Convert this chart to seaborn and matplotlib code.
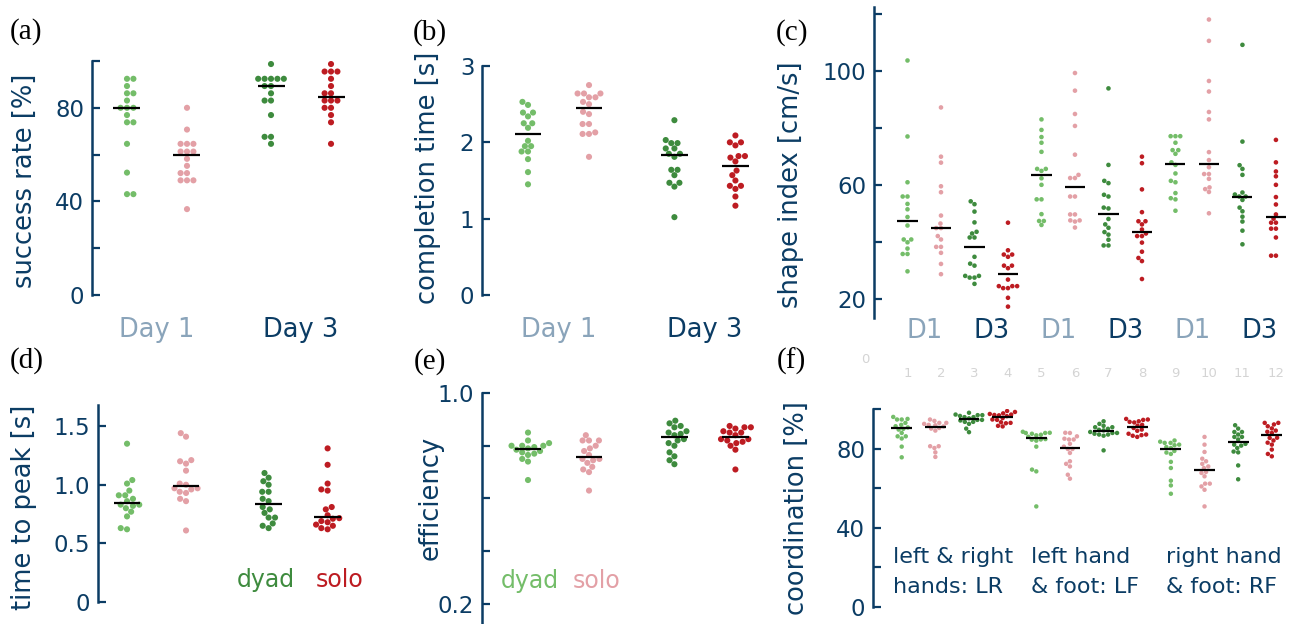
import numpy as np
import pandas as pd
import matplotlib
matplotlib.use("Agg")
import matplotlib.pyplot as plt
from matplotlib.transforms import blended_transform_factory
import seaborn as sns

# ---------------- data ----------------
# (a) success rate [%]: dyad D1, solo D1, dyad D3, solo D3
a_dyad_d1 = [92.4, 92.4, 89.3, 86.2, 86.2, 83.1, 80, 80, 80, 76.9, 73.8, 73.8, 64.6, 52.3, 43.1, 43.1]
a_solo_d1 = [80, 70.7, 64.6, 64.6, 64.6, 61.3, 61.3, 61.3, 58.2, 55.2, 52.1, 52.1, 49.0, 49.0, 49.0, 36.7]
a_dyad_d3 = [98.7, 92.4, 92.4, 92.4, 92.4, 92.4, 89.3, 89.3, 86.2, 83.1, 83.1, 76.9, 67.6, 67.6, 64.6]
a_solo_d3 = [98.7, 95.5, 95.5, 95.5, 92.4, 89.3, 86.2, 86.2, 83.1, 83.1, 83.1, 80, 80, 76.9, 73.8, 64.6]

# (b) completion time [s]
b_dyad_d1 = [2.53, 2.49, 2.39, 2.39, 2.34, 2.25, 2.25, 2.19, 2.02, 1.95, 1.95, 1.88, 1.88, 1.78, 1.61, 1.45]
b_solo_d1 = [2.75, 2.64, 2.64, 2.64, 2.59, 2.59, 2.53, 2.50, 2.40, 2.37, 2.24, 2.24, 2.13, 2.11, 2.11, 1.81]
b_dyad_d3 = [2.29, 2.03, 1.99, 1.99, 1.92, 1.92, 1.85, 1.85, 1.81, 1.64, 1.64, 1.57, 1.47, 1.47, 1.42, 1.02]
b_solo_d3 = [2.09, 2.00, 2.00, 1.96, 1.82, 1.82, 1.80, 1.75, 1.63, 1.57, 1.50, 1.43, 1.43, 1.39, 1.29, 1.17]

# (c) shape index [cm/s], 12 columns (LR D1 dyad/solo, D3 dyad/solo, LF ..., RF ...)
c1 = [103.8, 77.1, 61.0, 56.0, 56.0, 53.4, 51.5, 48.8, 45.8, 40.9, 40.9, 39.9, 37.7, 35.8, 35.8, 29.7]
c2 = [87.3, 70.0, 67.9, 59.6, 57.5, 49.3, 46.5, 44.9, 44.9, 42.1, 40.9, 38.3, 38.3, 36.2, 32.3, 28.7]
c3 = [54.3, 53.3, 50.7, 46.9, 43.6, 43.0, 41.6, 41.6, 34.8, 32.4, 31.7, 28.1, 28.1, 27.5, 27.5, 25.3]
c4 = [46.8, 37.1, 35.6, 35.6, 34.8, 31.7, 31.7, 30.8, 26.8, 24.5, 24.5, 24.5, 23.8, 23.8, 20.4, 17.3]
c5 = [83.1, 79.4, 76.9, 74.9, 71.7, 65.7, 65.7, 65.0, 62.4, 60.1, 55.0, 55.0, 49.8, 47.4, 47.4, 46.0]
c6 = [99.4, 93.2, 85.0, 80.8, 70.7, 63.6, 62.5, 62.5, 56.0, 56.0, 49.7, 49.7, 47.6, 47.6, 47.2, 45.1]
c7 = [94.0, 67.1, 61.5, 60.7, 56.6, 56.0, 52.1, 51.8, 48.1, 46.2, 45.0, 43.5, 42.6, 40.8, 38.8, 38.8]
c8 = [70.0, 67.7, 58.5, 50.5, 47.3, 47.3, 46.2, 44.4, 43.0, 42.1, 42.1, 39.8, 36.6, 34.4, 33.3, 27.0]
c9 = [77.2, 77.2, 77.2, 74.9, 72.3, 72.3, 71.0, 68.0, 67.1, 64.1, 61.5, 61.0, 57.2, 55.4, 55.0, 51.0]
c10 = [118.2, 110.7, 96.6, 92.9, 85.7, 83.1, 71.6, 68.8, 66.3, 63.9, 63.9, 62.2, 59.2, 58.6, 57.6, 50.1]
c11 = [109.3, 75.3, 67.0, 65.7, 63.6, 57.4, 56.7, 56.0, 56.0, 54.8, 52.1, 50.8, 48.9, 47.2, 44.0, 39.2]
c12 = [75.9, 68.0, 64.8, 63.1, 60.1, 55.8, 53.2, 49.7, 48.2, 46.8, 46.8, 44.7, 44.7, 41.6, 35.2, 35.2]

# (d) time to peak [s]
d_dyad_d1 = [1.35, 1.04, 1.01, 0.95, 0.91, 0.91, 0.88, 0.86, 0.83, 0.83, 0.82, 0.80, 0.77, 0.73, 0.63, 0.62]
d_solo_d1 = [1.44, 1.41, 1.21, 1.20, 1.18, 1.12, 1.01, 1.00, 0.97, 0.97, 0.96, 0.94, 0.93, 0.88, 0.86, 0.61]
d_dyad_d3 = [1.10, 1.06, 1.03, 1.00, 0.94, 0.94, 0.88, 0.86, 0.81, 0.79, 0.76, 0.72, 0.72, 0.67, 0.65, 0.63]
d_solo_d3 = [1.31, 1.17, 1.01, 0.96, 0.95, 0.81, 0.79, 0.74, 0.715, 0.71, 0.69, 0.68, 0.66, 0.65, 0.63, 0.62]

# (e) efficiency
e_dyad_d1 = [0.85, 0.82, 0.81, 0.80, 0.80, 0.80, 0.795, 0.79, 0.785, 0.78, 0.775, 0.77, 0.765, 0.75, 0.74, 0.67]
e_solo_d1 = [0.84, 0.82, 0.82, 0.82, 0.80, 0.79, 0.78, 0.765, 0.75, 0.75, 0.745, 0.735, 0.72, 0.71, 0.70, 0.63]
e_dyad_d3 = [0.895, 0.885, 0.875, 0.87, 0.855, 0.85, 0.845, 0.84, 0.825, 0.82, 0.81, 0.80, 0.775, 0.76, 0.745, 0.73]
e_solo_d3 = [0.875, 0.87, 0.87, 0.865, 0.855, 0.85, 0.85, 0.84, 0.825, 0.825, 0.82, 0.815, 0.81, 0.80, 0.785, 0.71]

# (f) coordination [%], 12 columns
f1 = [96, 95, 94.7, 94.7, 93, 92, 91.3, 90.7, 90, 89.6, 87.9, 86.2, 86.2, 85.1, 81, 75.6]
f2 = [94.7, 94, 93, 93, 92.5, 92, 91.8, 91.2, 90.4, 90.1, 89.1, 81.2, 81.2, 80.3, 78.1, 75.8]
f3 = [98.1, 97.2, 96.9, 96.9, 96.5, 95.9, 95.9, 95.3, 94.5, 94.5, 94.2, 93.5, 93.5, 92.5, 90.1, 88.3]
f4 = [99, 98.5, 97.8, 97.5, 97.2, 97, 96.8, 96.4, 95.4, 94.7, 94.5, 93.3, 93, 92.8, 91.5, 91.2]
f5 = [88.5, 88, 87.9, 87.9, 87.5, 87, 86.7, 86, 84.8, 84.6, 84.5, 84, 81, 69.4, 68.5, 50.8]
f6 = [88, 87.9, 86.2, 85, 84.6, 84.6, 82.4, 81, 79.8, 79.8, 77.8, 73.6, 72.3, 71, 66.8, 64.8]
f7 = [93.8, 92.5, 91.5, 90.8, 90.8, 90, 89.5, 89.2, 88.4, 87.9, 87.9, 87.5, 87.1, 87.1, 86.5, 79.1]
f8 = [95, 94.7, 94.5, 93.8, 93.5, 93.2, 92, 91.6, 90.4, 89.6, 89, 87.5, 87.1, 86.8, 86.5, 85.9]
f9 = [84.1, 83.5, 82.9, 82.9, 82, 81.7, 80.8, 80.3, 78.8, 78, 77.3, 73.3, 70.2, 63.8, 61.4, 57.2]
f10 = [85.9, 82.0, 78.3, 74.9, 73.6, 72.3, 71.0, 70.2, 68.2, 67.7, 66.0, 62.3, 62.3, 60.9, 59.2, 50.8]
f11 = [91.8, 90.1, 88.4, 88.4, 87.1, 85.9, 85.9, 84.6, 82.4, 82, 81.5, 80.3, 78.5, 78.1, 71.5, 64.5]
f12 = [93.0, 93.0, 92.2, 91.3, 90.2, 89.1, 88.5, 87.9, 85.5, 85.4, 84.1, 83, 82.0, 79.5, 77.3, 76.1]

pos4 = [1, 2, 3.4, 4.4]
pos12 = list(range(1, 13))
day_labels = ["Day 1", "Day 3"]
d_labels = ["D1", "D3"]
group_labels = ["dyad", "solo"]
region_lines = [["left & right", "hands: LR"], ["left hand", "& foot: LF"], ["right hand", "& foot: RF"]]
gray_ticks = [str(i) for i in range(1, 13)]

# ---------------- style ----------------
LG, PK, DG, DR = "#74bd69", "#e3a0a6", "#3e8b3e", "#bd1c22"
NAVY = "#0b3c64"
GB = "#8aa4ba"
colors4 = [LG, PK, DG, DR]
colors12 = colors4 * 3

sns.set_theme(style="white")
plt.rcParams["font.family"] = ["DejaVu Sans"]

W, H = 1291, 624
fig = plt.figure(figsize=(W / 100, H / 100), dpi=100)


def add_ax(left, top, right, bottom):
    return fig.add_axes([left / W, 1 - bottom / H, (right - left) / W, (bottom - top) / H])


def swarm(ax, cols, positions, colors, size, hw):
    recs = []
    for i, (vals, p) in enumerate(zip(cols, positions)):
        for v in vals:
            recs.append((p, v, f"g{i}"))
    df = pd.DataFrame(recs, columns=["pos", "val", "grp"])
    pal = {f"g{i}": c for i, c in enumerate(colors)}
    sns.swarmplot(data=df, x="pos", y="val", hue="grp", palette=pal, native_scale=True,
                  size=size, legend=False, ax=ax, warn_thresh=1.0, zorder=3)
    med = df.groupby("pos")["val"].median()
    ax.hlines(med.values, med.index.values - hw, med.index.values + hw,
              colors="black", lw=1.6, zorder=5)


def style_axis(ax, xlim, ylim, yticks, ylabels):
    ax.set_xlim(*xlim)
    ax.set_ylim(*ylim)
    for s in ["top", "right", "bottom"]:
        ax.spines[s].set_visible(False)
    sp = ax.spines["left"]
    sp.set_color(NAVY)
    sp.set_linewidth(1.8)
    ax.set_xticks([])
    ax.set_yticks(yticks)
    ax.set_yticklabels(ylabels)
    ax.tick_params(axis="y", which="both", left=True, direction="in", length=6,
                   width=1.6, color=NAVY, labelcolor=NAVY, labelsize=16.5, pad=5.5)
    ax.set_xlabel("")
    ax.set_ylabel("")
    ax.patch.set_alpha(0)


def ylab(text, cx, cy):
    fig.text(cx / W, 1 - cy / H, text, rotation=90, ha="center", va="center",
             color=NAVY, fontsize=18.5)


def letter(text, cx, cy):
    fig.text(cx / W, 1 - cy / H, text, ha="center", va="center", color="black",
             fontsize=21, family="Liberation Serif")


def xtext(ax, x, y_px, text, color, size=18.5):
    tr = blended_transform_factory(ax.transData, fig.transFigure)
    ax.text(x, 1 - y_px / H, text, transform=tr, ha="center", va="baseline",
            color=color, fontsize=size, clip_on=False)


# (a)
ax_a = add_ax(92, 61, 360, 295)
swarm(ax_a, [a_dyad_d1, a_solo_d1, a_dyad_d3, a_solo_d3], pos4, colors4, 4.4, 0.225)
style_axis(ax_a, (0.417, 4.883), (0, 100), [0, 20, 40, 60, 80, 100], ["0", "", "40", "", "80", ""])
xtext(ax_a, 1.5, 337, day_labels[0], GB)
xtext(ax_a, 3.9, 337, day_labels[1], NAVY)
ylab("success rate [%]", 25, 181)
letter("(a)", 26, 32)

# (b)
ax_b = add_ax(482, 66, 760, 295)
swarm(ax_b, [b_dyad_d1, b_solo_d1, b_dyad_d3, b_solo_d3], pos4, colors4, 4.4, 0.22)
style_axis(ax_b, (0.246, 4.803), (0, 3), [0, 1, 2, 3], ["0", "1", "2", "3"])
xtext(ax_b, 1.5, 337, day_labels[0], GB)
xtext(ax_b, 3.9, 337, day_labels[1], NAVY)
ylab("completion time [s]", 428, 178)
letter("(b)", 430, 33)

# (c)
ax_c = add_ax(874, 7, 1291, 318)
swarm(ax_c, [c1, c2, c3, c4, c5, c6, c7, c8, c9, c10, c11, c12], pos12, colors12, 3.3, 0.3)
style_axis(ax_c, (0, 12.45), (13.3, 122.6), [20, 40, 60, 80, 100, 120],
           ["20", "", "60", "", "100", ""])
for k in range(3):
    xtext(ax_c, 1.5 + 4 * k, 338, d_labels[0], GB)
    xtext(ax_c, 3.5 + 4 * k, 338, d_labels[1], NAVY)
for i, t in enumerate(gray_ticks):
    xtext(ax_c, pos12[i], 377, t, "#d4d4d4", size=9.5)
xtext(ax_c, -0.25, 363, "0", "#d4d4d4", size=9.5)
ylab("shape index [cm/s]", 791, 185)
letter("(c)", 792, 33)

# (d)
ax_d = add_ax(98, 405, 360, 602)
swarm(ax_d, [d_dyad_d1, d_solo_d1, d_dyad_d3, d_solo_d3], pos4, colors4, 4.4, 0.225)
style_axis(ax_d, (0.508, 4.949), (0, 1.68), [0, 0.5, 1.0, 1.5], ["0", "0.5", "1.0", "1.5"])
xtext(ax_d, 3.35, 587, group_labels[0], DG, size=17)
xtext(ax_d, 4.6, 587, group_labels[1], DR, size=17)
ylab("time to peak [s]", 24, 507)
letter("(d)", 27, 361)

# (e)
ax_e = add_ax(482, 393, 760, 624)
swarm(ax_e, [e_dyad_d1, e_solo_d1, e_dyad_d3, e_solo_d3], pos4, colors4, 4.4, 0.22)
style_axis(ax_e, (0.246, 4.803), (0.124, 1.0), [0.2, 0.4, 0.6, 0.8, 1.0], ["0.2", "", "", "", "1.0"])
xtext(ax_e, 1.03, 588, group_labels[0], LG, size=17)
xtext(ax_e, 2.13, 588, group_labels[1], PK, size=17)
ylab("efficiency", 431, 498)
letter("(e)", 430, 362)

# (f)
ax_f = add_ax(873, 409, 1291, 607)
swarm(ax_f, [f1, f2, f3, f4, f5, f6, f7, f8, f9, f10, f11, f12], pos12, colors12, 3.2, 0.31)
style_axis(ax_f, (0.147, 12.57), (0, 100), [0, 20, 40, 60, 80, 100], ["0", "", "40", "", "80", ""])
for lines, xpx in zip(region_lines, [893, 1031, 1166]):
    for ln, ypx in zip(lines, [563, 593]):
        fig.text(xpx / W, 1 - ypx / H, ln, ha="left", va="baseline", color=NAVY, fontsize=16)
ylab("coordination [%]", 797, 508)
letter("(f)", 791, 361)

fig.savefig("out.png", dpi=100)
